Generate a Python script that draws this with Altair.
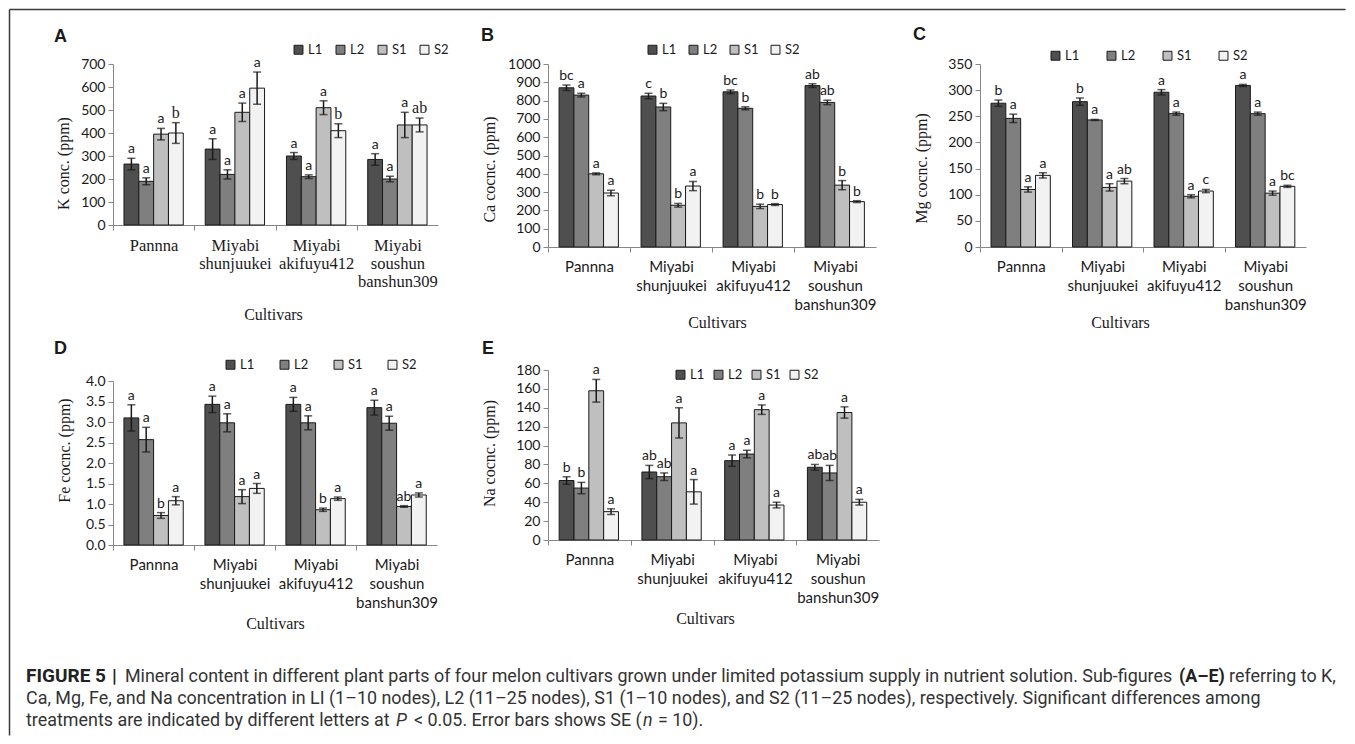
import altair as alt
import pandas as pd

# ---------------- data ----------------
cultivars = ["Pannna", "Miyabi|shunjuukei", "Miyabi|akifuyu412", "Miyabi|soushun|banshun309"]
parts = ["L1", "L2", "S1", "S2"]
part_colors = ["#4f4f4f", "#7f7f7f", "#bfbfbf", "#f2f2f2"]

k_mean = [[265, 190, 395, 400], [330, 220, 490, 595], [300, 210, 510, 410], [285, 200, 435, 435]]
k_se = [[25, 15, 25, 45], [45, 20, 40, 70], [15, 8, 30, 30], [25, 12, 55, 30]]
k_letters = [["a", "a", "a", "b"], ["a", "a", "a", "a"], ["a", "a", "a", "b"], ["a", "a", "a", "ab"]]
k_ticks = [0, 100, 200, 300, 400, 500, 600, 700]

ca_mean = [[870, 830, 400, 295], [825, 765, 228, 333], [848, 758, 222, 232], [882, 790, 338, 248]]
ca_se = [[15, 10, 5, 15], [15, 20, 10, 25], [10, 8, 12, 5], [10, 12, 25, 5]]
ca_letters = [["bc", "a", "a", "a"], ["c", "b", "b", "a"], ["bc", "b", "b", "b"], ["ab", "ab", "b", "b"]]
ca_ticks = [0, 100, 200, 300, 400, 500, 600, 700, 800, 900, 1000]

mg_mean = [[275, 246, 110, 137], [278, 243, 114, 126], [296, 255, 97, 107], [309, 255, 103, 116]]
mg_se = [[6, 8, 5, 5], [7, 1, 7, 5], [5, 3, 3, 3], [2, 3, 4, 2]]
mg_letters = [["b", "a", "a", "a"], ["b", "a", "a", "ab"], ["a", "a", "a", "c"], ["a", "a", "a", "bc"]]
mg_ticks = [0, 50, 100, 150, 200, 250, 300, 350]

fe_mean = [[3.10, 2.57, 0.72, 1.08], [3.43, 2.98, 1.18, 1.38], [3.43, 2.98, 0.86, 1.13], [3.35, 2.97, 0.94, 1.22]]
fe_se = [[0.32, 0.30, 0.07, 0.10], [0.20, 0.22, 0.17, 0.12], [0.17, 0.17, 0.04, 0.04], [0.18, 0.17, 0.02, 0.05]]
fe_letters = [["a", "a", "b", "a"], ["a", "a", "a", "a"], ["a", "a", "b", "a"], ["a", "a", "ab", "a"]]
fe_ticks = [0.0, 0.5, 1.0, 1.5, 2.0, 2.5, 3.0, 3.5, 4.0]

na_mean = [[63, 55, 158, 30], [72, 67, 124, 51], [84, 91, 138, 37], [77, 71, 135, 40]]
na_se = [[4, 6, 12, 3], [7, 4, 16, 13], [6, 4, 5, 3], [3, 8, 6, 3]]
na_letters = [["b", "b", "a", "a"], ["ab", "ab", "a", "a"], ["a", "a", "a", "a"], ["ab", "ab", "a", "a"]]
na_ticks = [0, 20, 40, 60, 80, 100, 120, 140, 160, 180]

cap_bold1 = "FIGURE 5"
cap_bar = "|"
cap_l1a = "Mineral content in different plant parts of four melon cultivars grown under limited potassium supply in nutrient solution. Sub-figures"
cap_bold2 = "(A\u2013E)"
cap_l1b = "referring to K,"
cap_l2 = ("Ca, Mg, Fe, and Na concentration in LI (1\u201310 nodes), L2 (11\u201325 nodes), S1 (1\u201310 nodes), "
          "and S2 (11\u201325 nodes), respectively. Significant differences among")
cap_l3a = "treatments are indicated by different letters at"
cap_l3p = "P"
cap_l3b = "< 0.05. Error bars shows SE ("
cap_l3n = "n"
cap_l3c = "= 10)."

# ---------------- style ----------------
SERIF = "Liberation Serif"
SANS = "Lato"
CAPF = "Roboto"
GRAY = "#868686"
INK = "#1a1a1a"
FRAME = "#3a3a3a"

one = pd.DataFrame({"k": [0]})


def long_df(mean, se, letters):
    rows = []
    for i, c in enumerate(cultivars):
        for j, p in enumerate(parts):
            m, s = mean[i][j], se[i][j]
            rows.append(dict(cultivar=c, part=p, mean=m, lo=m - s, hi=m + s, letter=letters[i][j]))
    return pd.DataFrame(rows)


def panel(mean, se, letters, ticks, fmt, ytitle, tag, p):
    df = long_df(mean, se, letters)
    step = p["xw"] / 4.0
    xscale = alt.Scale(domain=cultivars, range=[0, p["xw"]], paddingInner=0.27, paddingOuter=0.135)
    xaxis = alt.Axis(
        labelExpr="split(datum.label, '|')", labelAngle=0, labelFont=p["xfont"], labelFontSize=p["xfs"],
        labelColor=INK, labelLineHeight=p["lh"], labelPadding=p["lp"], tickSize=5, tickColor=GRAY,
        domainColor=GRAY, tickOffset=-step / 2, labelOffset=step / 2, grid=False,
        titleFont=SERIF, titleFontSize=16, titleFontWeight="normal", titleColor=INK,
        titleX=p["xtx"], titleY=p["xty"], titleBaseline="middle", titleAlign="center",
    )
    x = alt.X("cultivar:N", scale=xscale, axis=xaxis, title="Cultivars")
    xo = alt.XOffset("part:N", scale=alt.Scale(domain=parts, paddingInner=0, paddingOuter=0))
    ysk = dict(domain=[0, ticks[-1]], nice=False, zero=True)
    if "yr" in p:
        ysk["range"] = p["yr"]
    yaxis = alt.Axis(
        values=ticks, format=fmt, labelFont=SANS, labelFontSize=14, labelColor=INK, labelPadding=3,
        tickSize=5, tickColor=GRAY, domainColor=GRAY, grid=False,
        titleFont=SERIF, titleFontSize=16, titleFontWeight="normal", titleColor=INK,
        titleX=p["ytx"], titleY=p["yty"], titleBaseline="middle", titleAlign="center", titleAngle=-90,
    )

    def y(field):
        return alt.Y(field + ":Q", scale=alt.Scale(**ysk), axis=yaxis, title=ytitle)

    base = alt.Chart(df)
    bars = base.mark_bar(stroke=INK, strokeWidth=1).encode(
        x=x, xOffset=xo, y=y("mean"),
        color=alt.Color(
            "part:N", scale=alt.Scale(domain=parts, range=part_colors), title=None,
            legend=alt.Legend(
                orient="none", legendX=p["lx"], legendY=p["ly"], direction="horizontal",
                symbolType="square", symbolSize=80, symbolStrokeColor=INK, symbolStrokeWidth=1,
                labelFont=SANS, labelFontSize=13, labelColor=INK, labelOffset=3,
                columnPadding=p["cp"], padding=0,
            ),
        ),
    )
    whisk = base.mark_rule(color=INK, strokeWidth=1.5).encode(x=x, xOffset=xo, y=y("lo"), y2=alt.Y2("hi:Q"))
    cap_lo = base.mark_tick(color=INK, thickness=1.5, size=8).encode(x=x, xOffset=xo, y=y("lo"))
    cap_hi = base.mark_tick(color=INK, thickness=1.5, size=8).encode(x=x, xOffset=xo, y=y("hi"))
    layers = [bars, whisk, cap_lo, cap_hi]
    if p.get("mixfont"):
        layers.append(base.mark_text(baseline="alphabetic", dy=-5, font=SANS, fontSize=14, color=INK)
                      .encode(x=x, xOffset=xo, y=y("hi"), text="letter:N")
                      .transform_filter("datum.letter == 'a'"))
        layers.append(base.mark_text(baseline="alphabetic", dy=-5, font=SERIF, fontSize=16, color=INK)
                      .encode(x=x, xOffset=xo, y=y("hi"), text="letter:N")
                      .transform_filter("datum.letter != 'a'"))
    else:
        layers.append(base.mark_text(baseline="alphabetic", dy=-5, font=SANS, fontSize=14, color=INK)
                      .encode(x=x, xOffset=xo, y=y("hi"), text="letter:N"))
    layers.append(alt.Chart(one).mark_text(
        text=tag, font="Liberation Sans", fontWeight="bold", fontSize=18, align="left",
        baseline="alphabetic", color=INK).encode(x=alt.value(p["tx"]), y=alt.value(p["ty"])))
    return alt.layer(*layers).properties(width=p["w"], height=p["h"])


pA = dict(w=335, xw=325, h=161, xfont=SERIF, xfs=16.5, lh=18, lp=7, xtx=160, xty=89, ytx=-50, yty=99,
          lx=179, ly=-21, cp=11, tx=-59, ty=-22, mixfont=True)
pB = dict(w=332, xw=328, h=183, xfont=SANS, xfs=15, lh=19, lp=7, xtx=169, xty=75, ytx=-59, yty=105,
          lx=98, ly=-21, cp=10, tx=-67, ty=-23)
pC = dict(w=326, xw=326, h=183, xfont=SANS, xfs=15, lh=19, lp=7, xtx=140, xty=75, ytx=-59, yty=104,
          lx=69, ly=-15, cp=25, tx=-67, ty=-24)
pD = dict(w=335, xw=324, h=175, yr=[175, 11], xfont=SANS, xfs=15, lh=19, lp=7, xtx=162, xty=78, ytx=-49, yty=80,
          lx=111, ly=-12, cp=23, tx=-59, ty=-16)
pE = dict(w=332, xw=331, h=170, xfont=SANS, xfs=15, lh=19, lp=7, xtx=157, xty=78, ytx=-59, yty=83,
          lx=126, ly=-2, cp=7, tx=-66, ty=-16)

A = panel(k_mean, k_se, k_letters, k_ticks, "d", "K conc. (ppm)", "A", pA)
B = panel(ca_mean, ca_se, ca_letters, ca_ticks, "d", "Ca cocnc. (ppm)", "B", pB)
C = panel(mg_mean, mg_se, mg_letters, mg_ticks, "d", "Mg cocnc. (ppm)", "C", pC)
D = panel(fe_mean, fe_se, fe_letters, fe_ticks, ".1f", "Fe cocnc. (ppm)", "D", pD)
E = panel(na_mean, na_se, na_letters, na_ticks, "d", "Na cocnc. (ppm)", "E", pE)


# ---------------- caption + figure frame (cell at column 3, row 2) ----------------
def ctext(t, x, y, size=17.9, weight="normal", style="normal", color="#333333"):
    return alt.Chart(one).mark_text(
        text=t, font=CAPF, fontSize=size, fontWeight=weight, fontStyle=style, align="left",
        baseline="alphabetic", color=color).encode(x=alt.value(x), y=alt.value(y))


# frame: top and left edges drawn as bare axis domain lines anchored at the frame corner
FX, FY = -971, -361          # frame corner in this cell's coordinates
FW, FH = 1336, 726           # frame edge lengths
frame = alt.Chart(one).mark_point(opacity=0).encode(
    x=alt.X("k:Q", scale=alt.Scale(domain=[0, 1], range=[0, FW], nice=False, zero=False),
            axis=alt.Axis(orient="top", offset=-FY, position=FX, labels=False, ticks=False, grid=False,
                          minExtent=0, maxExtent=0, domainColor=FRAME, domainWidth=1.5), title=None),
    y=alt.Y("k:Q", scale=alt.Scale(domain=[0, 1], range=[0, FH], nice=False, zero=False),
            axis=alt.Axis(orient="left", offset=-FX, position=FY, labels=False, ticks=False, grid=False,
                          minExtent=0, maxExtent=0, domainColor=FRAME, domainWidth=1.5), title=None),
)

Y1, Y2, Y3 = 312, 334, 356
cap_layers = [
    frame,
    ctext(cap_bold1, -954, Y1, size=19, weight="bold", color="#222222"),
    ctext(cap_bar, -868, Y1, size=19, weight="bold", color="#222222"),
    ctext(cap_l1a, -855, Y1),
    ctext(cap_bold2, 199, Y1, weight="bold", color="#222222"),
    ctext(cap_l1b, 249, Y1),
    ctext(cap_l2, -954, Y2),
    ctext(cap_l3a, -954, Y3),
    ctext(cap_l3p, -584, Y3, style="italic"),
    ctext(cap_l3b, -566, Y3),
    ctext(cap_l3n, -337, Y3, style="italic"),
    ctext(cap_l3c, -322, Y3),
]
CAP = alt.layer(*cap_layers).properties(width=326, height=170)

chart = (
    alt.concat(A, B, C, D, E, CAP, columns=3, spacing={"row": 123, "column": 100}, bounds="flush")
    .resolve_scale(color="independent")
    .properties(padding=0, background="white")
    .configure_view(stroke="transparent")
)

chart.save("out.html", embed_options={"renderer": "svg", "actions": False})
